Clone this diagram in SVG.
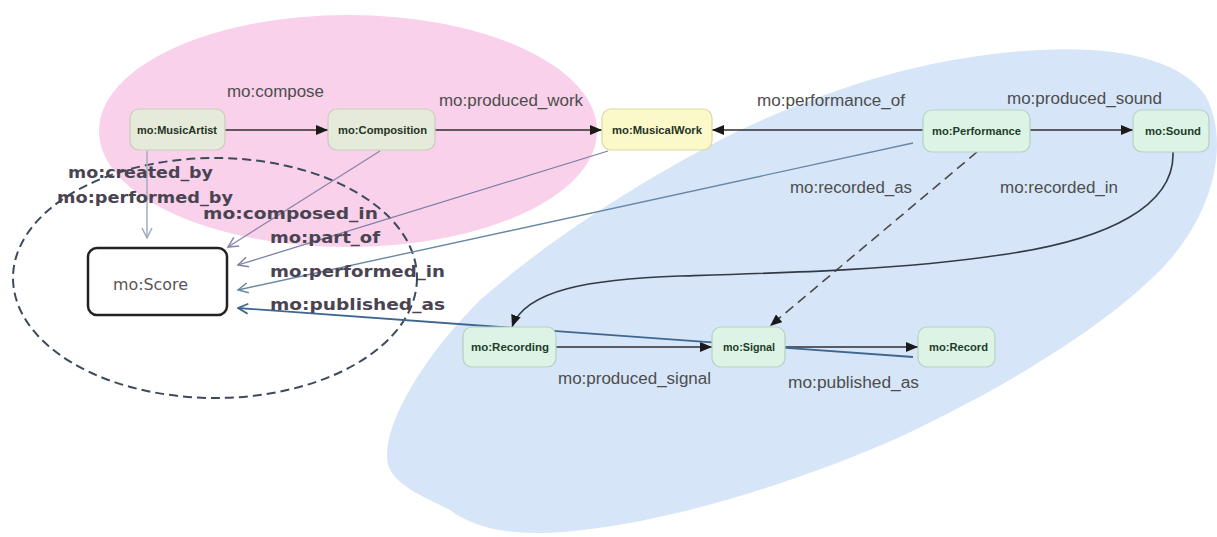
<svg xmlns="http://www.w3.org/2000/svg" width="1217" height="537" viewBox="0 0 1217 537">
<style>
.node rect{stroke-width:1.2}
.gray rect{fill:#e6eadb;stroke:#c9cdb9}
.yellow rect{fill:#fbf8c9;stroke:#dcd7a2}
.green rect{fill:#dcf3e5;stroke:#b4d3c0}
.ntxt{font-family:"Liberation Sans",Arial,sans-serif;font-size:10px;font-weight:bold;fill:#25331f}
.green .ntxt{fill:#1e3d28}
.lbl{font-family:"Liberation Sans",Arial,sans-serif;font-size:16px;fill:#4d4d4d}
.blbl{font-family:"DejaVu Sans",Verdana,sans-serif;font-size:15px;font-weight:bold;fill:#4a4452}
.dark{fill:none;stroke:#2e2e2e;stroke-width:1.6}
</style>
<defs>
<marker id="ah" viewBox="0 0 12 10" refX="12" refY="5" markerWidth="12" markerHeight="10" markerUnits="userSpaceOnUse" orient="auto"><path d="M0,0 L12,5 L0,10 Z" fill="#1a1a1a"/></marker>
<marker id="oa1" viewBox="0 0 12 12" refX="11" refY="6" markerWidth="12" markerHeight="12" markerUnits="userSpaceOnUse" orient="auto"><path d="M1,1 L11,6 L1,11" fill="none" stroke="#a0acbc" stroke-width="1.5"/></marker>
<marker id="oa2" viewBox="0 0 12 12" refX="11" refY="6" markerWidth="12" markerHeight="12" markerUnits="userSpaceOnUse" orient="auto"><path d="M1,1 L11,6 L1,11" fill="none" stroke="#8a86aa" stroke-width="1.5"/></marker>
<marker id="oa3" viewBox="0 0 12 12" refX="11" refY="6" markerWidth="12" markerHeight="12" markerUnits="userSpaceOnUse" orient="auto"><path d="M1,1 L11,6 L1,11" fill="none" stroke="#7c80a6" stroke-width="1.5"/></marker>
<marker id="oa4" viewBox="0 0 12 12" refX="11" refY="6" markerWidth="12" markerHeight="12" markerUnits="userSpaceOnUse" orient="auto"><path d="M1,1 L11,6 L1,11" fill="none" stroke="#6a88a6" stroke-width="1.5"/></marker>
<marker id="oa5" viewBox="0 0 12 12" refX="11" refY="6" markerWidth="12" markerHeight="12" markerUnits="userSpaceOnUse" orient="auto"><path d="M1,1 L11,6 L1,11" fill="none" stroke="#3f6690" stroke-width="1.8"/></marker>
</defs>
<rect width="1217" height="537" fill="#ffffff"/>
<g id="backgrounds">
<ellipse cx="348" cy="131" rx="249" ry="116" fill="#f9d1ea"/>
<path d="M388,465 C380,430 420,360 480,300 C560,230 660,170 740,130 C830,88 930,55 1040,50 C1120,46 1180,60 1205,95 C1230,140 1215,210 1167,263 C1110,325 1000,390 900,437 C780,490 640,530 543,533 C500,534 470,525 450,510 C420,495 395,485 388,465 Z" fill="#d6e6f8"/>
<ellipse cx="215" cy="278" rx="202" ry="120" fill="none" stroke="#3d4a5c" stroke-width="2" stroke-dasharray="9 5"/>
</g>
<g id="connectors">
<path class="dark" d="M225,130 H328" marker-end="url(#ah)"/>
<path class="dark" d="M435,130 H602" marker-end="url(#ah)"/>
<path class="dark" d="M923,130 H712" marker-end="url(#ah)"/>
<path class="dark" d="M1030,130 H1133" marker-end="url(#ah)"/>
<path d="M977,152 L770,326" fill="none" stroke="#4a4a4a" stroke-width="1.6" stroke-dasharray="10 6" marker-end="url(#ah)"/>
<path d="M1173,152 C1175,205 1110,240 1000,255 C900,270 780,273 680,276 C590,279 525,290 512,327" fill="none" stroke="#333a46" stroke-width="1.6" marker-end="url(#ah)"/>
<path class="dark" d="M556,347 H712" marker-end="url(#ah)"/>
<path class="dark" d="M785,347 H918" marker-end="url(#ah)"/>
<path d="M147,151 L147,238" fill="none" stroke="#a0acbc" stroke-width="1.5" marker-end="url(#oa1)"/>
<path d="M380,151 L228,247" fill="none" stroke="#8a86aa" stroke-width="1.3" marker-end="url(#oa2)"/>
<path d="M608,151 L238,265" fill="none" stroke="#7c80a6" stroke-width="1.3" marker-end="url(#oa3)"/>
<path d="M913,143 L238,290" fill="none" stroke="#6a88a6" stroke-width="1.4" marker-end="url(#oa4)"/>
<path d="M913,357 L238,308" fill="none" stroke="#3f6690" stroke-width="1.8" marker-end="url(#oa5)"/>
</g>
<g id="n-musicartist" class="node gray"><rect x="130" y="109" width="95" height="41" rx="9"/><text class="ntxt" x="137" y="134" textLength="80" lengthAdjust="spacingAndGlyphs">mo:MusicArtist</text></g>
<g id="n-composition" class="node gray"><rect x="328" y="109" width="107" height="41" rx="9"/><text class="ntxt" x="338" y="134" textLength="89" lengthAdjust="spacingAndGlyphs">mo:Composition</text></g>
<g id="n-musicalwork" class="node yellow"><rect x="602" y="109" width="110" height="41" rx="9"/><text class="ntxt" x="612" y="134" textLength="90" lengthAdjust="spacingAndGlyphs">mo:MusicalWork</text></g>
<g id="n-performance" class="node green"><rect x="923" y="110" width="107" height="42" rx="9"/><text class="ntxt" x="932" y="135" textLength="89" lengthAdjust="spacingAndGlyphs">mo:Performance</text></g>
<g id="n-sound" class="node green"><rect x="1133" y="110" width="76" height="42" rx="9"/><text class="ntxt" x="1145" y="135" textLength="56" lengthAdjust="spacingAndGlyphs">mo:Sound</text></g>
<g id="n-recording" class="node green"><rect x="463" y="327" width="93" height="40" rx="9"/><text class="ntxt" x="471" y="351" textLength="78" lengthAdjust="spacingAndGlyphs">mo:Recording</text></g>
<g id="n-signal" class="node green"><rect x="712" y="327" width="73" height="40" rx="9"/><text class="ntxt" x="723" y="351" textLength="52" lengthAdjust="spacingAndGlyphs">mo:Signal</text></g>
<g id="n-record" class="node green"><rect x="918" y="327" width="77" height="40" rx="9"/><text class="ntxt" x="929" y="351" textLength="59" lengthAdjust="spacingAndGlyphs">mo:Record</text></g>
<g id="n-score"><rect x="88" y="248" width="139" height="67" rx="9" fill="#ffffff" stroke="#222222" stroke-width="2.5"/><text x="113" y="290" font-family="'DejaVu Sans',Verdana,sans-serif" font-size="15" fill="#5a5458" textLength="75" lengthAdjust="spacingAndGlyphs">mo:Score</text></g>
<g id="labels">
<text class="lbl" x="227" y="97" textLength="97" lengthAdjust="spacingAndGlyphs">mo:compose</text>
<text class="lbl" x="439" y="106" textLength="144" lengthAdjust="spacingAndGlyphs">mo:produced_work</text>
<text class="lbl" x="757" y="106" textLength="148" lengthAdjust="spacingAndGlyphs">mo:performance_of</text>
<text class="lbl" x="1007" y="104" textLength="155" lengthAdjust="spacingAndGlyphs">mo:produced_sound</text>
<text class="lbl" x="790" y="193" textLength="122" lengthAdjust="spacingAndGlyphs">mo:recorded_as</text>
<text class="lbl" x="1000" y="193" textLength="118" lengthAdjust="spacingAndGlyphs">mo:recorded_in</text>
<text class="lbl" x="558" y="384" textLength="153" lengthAdjust="spacingAndGlyphs">mo:produced_signal</text>
<text class="lbl" x="788" y="388" textLength="131" lengthAdjust="spacingAndGlyphs">mo:published_as</text>
<text class="blbl" x="68" y="178" textLength="145" lengthAdjust="spacingAndGlyphs">mo:created_by</text>
<text class="blbl" x="57" y="203" textLength="176" lengthAdjust="spacingAndGlyphs">mo:performed_by</text>
<text class="blbl" x="203" y="219" textLength="175" lengthAdjust="spacingAndGlyphs">mo:composed_in</text>
<text class="blbl" x="270" y="243" textLength="110" lengthAdjust="spacingAndGlyphs">mo:part_of</text>
<text class="blbl" x="270" y="277" textLength="175" lengthAdjust="spacingAndGlyphs">mo:performed_in</text>
<text class="blbl" x="270" y="310" textLength="175" lengthAdjust="spacingAndGlyphs">mo:published_as</text>
</g>
</svg>
